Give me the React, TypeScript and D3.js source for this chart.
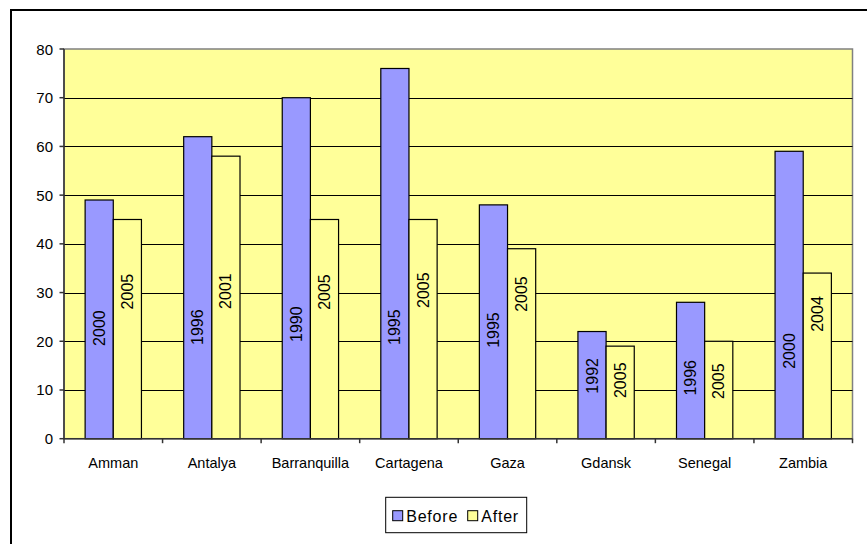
import React from "react";
import * as d3 from "d3";

// Cities and the share values before/after, with the survey year of each figure
const categories = ["Amman", "Antalya", "Barranquilla", "Cartagena", "Gaza", "Gdansk", "Senegal", "Zambia"];
const beforeValues = [49, 62, 70, 76, 48, 22, 28, 59];
const afterValues = [45, 58, 45, 45, 39, 19, 20, 34];
const beforeYears = ["2000", "1996", "1990", "1995", "1995", "1992", "1996", "2000"];
const afterYears = ["2005", "2001", "2005", "2005", "2005", "2005", "2005", "2004"];
// Where each year label sits, in axis units
const beforeLabelAt = [22.7, 22.9, 23.5, 22.9, 22.3, 12.9, 12.5, 18.0];
const afterLabelAt = [30.2, 30.3, 30.1, 30.5, 29.7, 12.0, 11.8, 25.6];
const yTicks = [0, 10, 20, 30, 40, 50, 60, 70, 80];
const seriesNames = ["Before", "After"];
const seriesColors = ["#9999FF", "#FFFF99"];

const W = 867;
const H = 544;
const plot = { left: 64, right: 852.5, top: 49, bottom: 438.7 };
const font = "'Liberation Sans', Arial, sans-serif";

export default function App() {
  const x0 = d3.scaleBand<string>().domain(categories).range([plot.left, plot.right]).paddingInner(0).paddingOuter(0);
  const x1 = d3.scaleBand<string>().domain(seriesNames).range([0, x0.bandwidth()]).paddingInner(0).paddingOuter(0.75);
  const y = d3.scaleLinear().domain([0, 80]).range([plot.bottom, plot.top]);

  const series = [
    { name: "Before", values: beforeValues, years: beforeYears, labelAt: beforeLabelAt, color: seriesColors[0] },
    { name: "After", values: afterValues, years: afterYears, labelAt: afterLabelAt, color: seriesColors[1] },
  ];

  const boundaries = categories.map((c) => x0(c)!).concat([plot.right]);

  return (
    <svg width={W} height={H} style={{ position: "fixed", left: 0, top: 0, background: "#fff" }} fontFamily={font}>
      {/* chart frame */}
      <rect x={11} y={10} width={W + 20} height={H + 20} fill="#fff" stroke="#000" strokeWidth={2} />

      {/* plot area */}
      <rect x={plot.left} y={plot.top} width={plot.right - plot.left} height={plot.bottom - plot.top} fill="#FFFF99" stroke="#808080" strokeWidth={1.5} />

      {/* gridlines */}
      {yTicks.filter((t) => t > 0 && t < 80).map((t) => (
        <line key={t} x1={plot.left} x2={plot.right} y1={Math.round(y(t)) + 0.5} y2={Math.round(y(t)) + 0.5} stroke="#000" strokeWidth={1} />
      ))}

      {/* bars */}
      {series.map((s) =>
        categories.map((c, i) => {
          const bx = x0(c)! + x1(s.name)!;
          return (
            <rect key={s.name + c} x={bx} y={y(s.values[i])} width={x1.bandwidth()} height={y(0) - y(s.values[i])} fill={s.color} stroke="#000" strokeWidth={1.2} />
          );
        })
      )}

      {/* year labels */}
      {series.map((s) =>
        categories.map((c, i) => {
          const cx = x0(c)! + x1(s.name)! + x1.bandwidth() / 2;
          const cy = y(s.labelAt[i]);
          return (
            <text key={"l" + s.name + c} transform={`translate(${cx},${cy}) rotate(-90)`} textAnchor="middle" dominantBaseline="central" fontSize={16} fill="#000">
              {s.years[i]}
            </text>
          );
        })
      )}

      {/* y axis */}
      <line x1={plot.left} x2={plot.left} y1={plot.top} y2={plot.bottom} stroke="#333" strokeWidth={1.5} />
      {yTicks.map((t) => (
        <g key={"yt" + t}>
          <line x1={plot.left - 4.5} x2={plot.left} y1={y(t)} y2={y(t)} stroke="#333" strokeWidth={1.5} />
          <text x={53} y={y(t)} textAnchor="end" dominantBaseline="central" fontSize={15} fill="#000">{t}</text>
        </g>
      ))}

      {/* x axis */}
      <line x1={plot.left} x2={plot.right} y1={plot.bottom} y2={plot.bottom} stroke="#333" strokeWidth={1.5} />
      {boundaries.map((bx, i) => (
        <line key={"xt" + i} x1={bx} x2={bx} y1={plot.bottom} y2={plot.bottom + 4.5} stroke="#333" strokeWidth={1.5} />
      ))}
      {categories.map((c) => (
        <text key={"xl" + c} x={x0(c)! + x0.bandwidth() / 2} y={468} textAnchor="middle" fontSize={14.5} fill="#000">{c}</text>
      ))}

      {/* legend */}
      <rect x={385.7} y={497.3} width={141} height={35.4} fill="#fff" stroke="#000" strokeWidth={1} />
      {seriesNames.map((n, i) => {
        const lx = i === 0 ? 392.7 : 467.7;
        return (
          <g key={"lg" + n}>
            <rect x={lx} y={510.7} width={10} height={10} fill={seriesColors[i]} stroke="#000" strokeWidth={1} />
            <text x={lx + 13.5} y={521.5} fontSize={16} letterSpacing={0.8} fill="#000">{n}</text>
          </g>
        );
      })}
    </svg>
  );
}
